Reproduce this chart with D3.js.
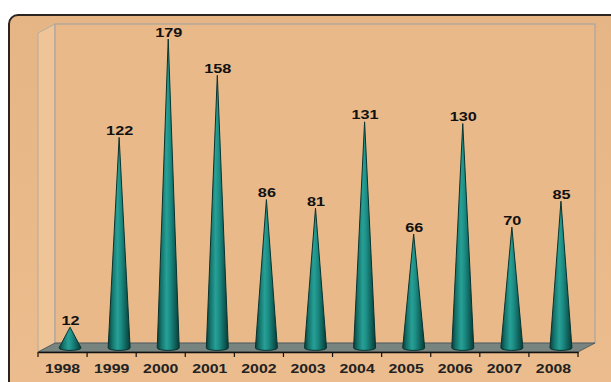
<!DOCTYPE html>
<html>
<head>
<meta charset="utf-8">
<script src="https://cdn.jsdelivr.net/npm/d3@7"></script>
<style>
  body { margin: 0; background: #fff; }
  svg { display: block; }
  text { font-family: Arial, "Liberation Sans", sans-serif; font-weight: bold; }
</style>
</head>
<body>
<div id="chart"></div>
<script>
const years = ["1998", "1999", "2000", "2001", "2002", "2003", "2004", "2005", "2006", "2007", "2008"];
const counts = [12, 122, 179, 158, 86, 81, 131, 66, 130, 70, 85];

const width = 611, height = 382;
const depthX = 17, depthY = 9;   // 3d depth of the plot box
const front = { left: 38, right: 578, bottom: 352, top: 33 };

const svg = d3.select("#chart").append("svg")
    .attr("width", width)
    .attr("height", height);

const defs = svg.append("defs");

const coneGrad = defs.append("linearGradient")
    .attr("id", "cone")
    .attr("x1", "0%").attr("x2", "100%")
    .attr("y1", "0%").attr("y2", "0%");
[[0, "#0a3d39"], [0.18, "#13726b"], [0.42, "#27a096"], [0.58, "#1c8d85"], [0.82, "#0f5f59"], [1, "#093a36"]]
    .forEach(([o, c]) => coneGrad.append("stop").attr("offset", o).attr("stop-color", c));

const bgGrad = defs.append("linearGradient")
    .attr("id", "bg")
    .attr("x1", "0%").attr("x2", "0%")
    .attr("y1", "0%").attr("y2", "100%");
bgGrad.append("stop").attr("offset", 0).attr("stop-color", "#e6b586");
bgGrad.append("stop").attr("offset", 1).attr("stop-color", "#ecbd8e");

// outer panel
svg.append("rect")
    .attr("x", 9).attr("y", 15)
    .attr("width", 640).attr("height", 400)
    .attr("rx", 9)
    .attr("fill", "url(#bg)")
    .attr("stroke", "#2b2420")
    .attr("stroke-width", 2);

// walls
const backL = front.left + depthX, backR = front.right + depthX;
const backB = front.bottom - depthY, backT = front.top - depthY;

svg.append("polygon")
    .attr("points", [[front.left, front.top], [backL, backT], [backL, backB], [front.left, front.bottom]].join(" "))
    .attr("fill", "#efc597")
    .attr("stroke", "#b5aca0")
    .attr("stroke-width", 1);

svg.append("rect")
    .attr("x", backL).attr("y", backT)
    .attr("width", backR - backL).attr("height", backB - backT)
    .attr("fill", "#e9b98a")
    .attr("stroke", "#a9a5a0")
    .attr("stroke-width", 1.2);

// floor
svg.append("polygon")
    .attr("points", [[front.left, front.bottom], [backL, backB], [backR, backB], [front.right, front.bottom]].join(" "))
    .attr("fill", "#78847f")
    .attr("stroke", "#4a4f4c")
    .attr("stroke-width", 0.8);

const x = d3.scaleBand()
    .domain(years)
    .range([front.left, front.right]);

const y = d3.scaleLinear()
    .domain([0, 180])
    .range([347.9, 37.3]);

// axis
const axis = svg.append("g")
    .attr("transform", `translate(0,${front.bottom})`)
    .call(d3.axisBottom(x).tickSize(0).tickPadding(12));
axis.select(".domain").attr("stroke", "#111").attr("stroke-width", 1.5);
axis.selectAll("text")
    .attr("font-size", 12)
    .attr("fill", "#222")
    .attr("transform", "scale(1.32,1)");

// ticks between the categories
svg.append("g")
    .selectAll("line")
    .data(years.concat(["end"]))
    .enter().append("line")
    .attr("x1", (d, i) => front.left + i * x.step())
    .attr("x2", (d, i) => front.left + i * x.step())
    .attr("y1", front.bottom)
    .attr("y2", front.bottom + 5)
    .attr("stroke", "#111")
    .attr("stroke-width", 1.2);

// cones
const coneW = 22;
const cx = d => x(d) + x.bandwidth() / 2 + 7.5;

svg.append("g")
    .selectAll("path")
    .data(years)
    .enter().append("path")
    .attr("d", (d, i) => {
        const c = cx(d), b = y(0), t = y(counts[i]);
        return `M${c - coneW / 2},${b} L${c},${t} L${c + coneW / 2},${b} A${coneW / 2},2.5 0 0,1 ${c - coneW / 2},${b} Z`;
    })
    .attr("fill", "url(#cone)")
    .attr("stroke", "#08332f")
    .attr("stroke-width", 1);

// value labels
svg.append("g")
    .selectAll("text")
    .data(years)
    .enter().append("text")
    .attr("transform", (d, i) => `translate(${cx(d) + 0.5},${y(counts[i]) - 2.5}) scale(1.3,1)`)
    .attr("text-anchor", "middle")
    .attr("font-size", 12.5)
    .attr("fill", "#111")
    .text((d, i) => counts[i]);
</script>
</body>
</html>
